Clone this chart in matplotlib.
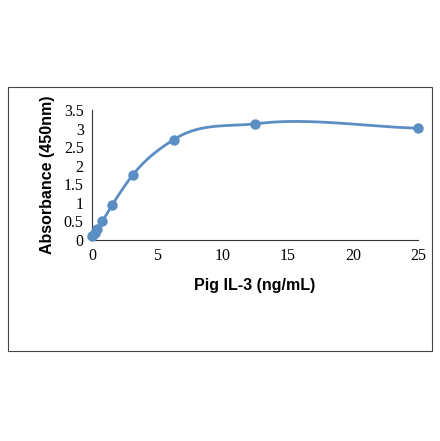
import numpy as np
import matplotlib.pyplot as plt
from matplotlib.patches import Rectangle

# Pig IL-3 standard curve
conc = [0, 0.195, 0.39, 0.78, 1.56, 3.125, 6.25, 12.5, 25]
absorb = [0.12, 0.18, 0.3, 0.5, 0.95, 1.75, 2.7, 3.13, 3.01]


def smooth_curve(x, y, n=40):
    # cubic Hermite through the points, just for drawing the line smoothly
    x = np.asarray(x, float)
    y = np.asarray(y, float)
    m = np.gradient(y, x)
    xs, ys = [], []
    for i in range(len(x) - 1):
        h = x[i + 1] - x[i]
        t = np.linspace(0, 1, n)
        h00 = 2 * t**3 - 3 * t**2 + 1
        h10 = t**3 - 2 * t**2 + t
        h01 = -2 * t**3 + 3 * t**2
        h11 = t**3 - t**2
        xs.append(x[i] + t * h)
        ys.append(h00 * y[i] + h10 * h * m[i] + h01 * y[i + 1] + h11 * h * m[i + 1])
    return np.concatenate(xs), np.concatenate(ys)


fig = plt.figure(figsize=(4.4, 4.41), dpi=100)
fig.patches.append(Rectangle((8 / 440, 1 - 351 / 441), 424 / 440, 264 / 441,
                             transform=fig.transFigure, fill=False,
                             edgecolor='#444444', linewidth=0.8))

ax = fig.add_axes([92 / 440, 1 - 240 / 441, 326 / 440, 130 / 441])
sx, sy = smooth_curve(conc, absorb)
ax.plot(sx, sy, color='#5b8ec2', linewidth=2, clip_on=False)
ax.plot(conc, absorb, 'o', color='#5b8ec2', markersize=6.5, clip_on=False, zorder=5)

ax.set_xlim(0, 25)
ax.set_ylim(0, 3.5)
ax.set_xticks([0, 5, 10, 15, 20, 25])
ax.set_yticks([0, 0.5, 1, 1.5, 2, 2.5, 3, 3.5])
ax.set_yticklabels(['0', '0.5', '1', '1.5', '2', '2.5', '3', '3.5'])
for s in ['top', 'right']:
    ax.spines[s].set_visible(False)
for s in ['left', 'bottom']:
    ax.spines[s].set_color('#333333')
    ax.spines[s].set_linewidth(0.8)
ax.tick_params(length=0, pad=6, labelsize=11.5)
for lab in ax.get_xticklabels() + ax.get_yticklabels():
    lab.set_fontfamily('Liberation Serif')

ax.set_xlabel('Pig IL-3 (ng/mL)', fontfamily='Liberation Sans', fontweight='bold',
              fontsize=11.5, labelpad=10)
ax.set_ylabel('Absorbance (450nm)', fontfamily='Liberation Sans', fontweight='bold',
              fontsize=11.5, labelpad=6)

fig.savefig('out.png', dpi=100)
